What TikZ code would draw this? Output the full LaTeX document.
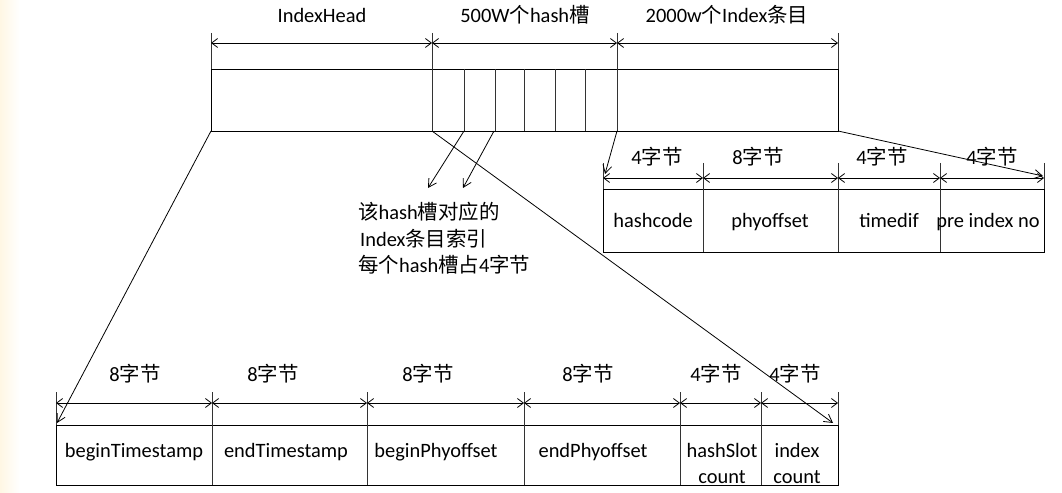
\documentclass[tikz,border=0pt]{standalone}
\usepackage{fontspec}
\setmainfont{Carlito}
\newfontfamily\cjk{Noto Sans CJK SC}
\usetikzlibrary{arrows.meta}
\newcommand{\zh}[1]{{\cjk #1}}
\tikzset{
  frame/.style={draw=black, line width=0.9bp},
  sep/.style={draw=black!80, line width=0.9bp},
  dimline/.style={line width=0.8bp, {Straight Barb[length=6bp,width=9bp]}-{Straight Barb[length=6bp,width=9bp]}},
  ptr/.style={line width=0.8bp, -{Straight Barb[length=8bp,width=9bp]}},
  lab/.style={font=\fontsize{20.5}{23}\selectfont, inner sep=0pt, anchor=base},
  labl/.style={font=\fontsize{20.5}{23}\selectfont, inner sep=0pt, anchor=base west},
}
\begin{document}
\begin{tikzpicture}[x=1bp,y=-1bp]
\useasboundingbox (0,0) rectangle (1062,493);
\shade[left color={rgb,255:red,255;green,247;blue,228}, right color=white] (0,0) rectangle (20,493);

% ---------- top bar ----------
\draw[frame] (211,69) rectangle (838,131);
\foreach \x in {464,495,524,555,585} \draw[sep] (\x,69) -- (\x,131);
\draw[sep] (432,33) -- (432,131);
\draw[sep] (617,33) -- (617,131);
\draw[sep] (211,33) -- (211,69);
\draw[sep] (838,33) -- (838,69);
\coordinate (t0) at (211,43); \coordinate (t1) at (432,43);
\coordinate (t2) at (617,43); \coordinate (t3) at (838,43);
\draw[dimline] (t0) -- (t1);
\draw[dimline] (t1) -- (t2);
\draw[dimline] (t2) -- (t3);
\node[lab] (lh) at (322,23) {IndexHead};
\node[lab] (ls) at (525,23) {500W\zh{个}hash\zh{槽}};
\node[lab] (li) at (727,23) {2000w\zh{个}Index\zh{条目}};

% ---------- right table (index entry) ----------
\draw[frame] (603,189) rectangle (1044,252);
\foreach \x in {703,838,940} \draw[sep] (\x,163) -- (\x,252);
\draw[sep] (603,163) -- (603,189);
\draw[sep] (1044,163) -- (1044,189);
\coordinate (r0) at (603,178); \coordinate (r1) at (703,178);
\coordinate (r2) at (838,178); \coordinate (r3) at (940,178);
\coordinate (r4) at (1044,178);
\draw[dimline] (r0) -- (r1);
\draw[dimline] (r1) -- (r2);
\draw[dimline] (r2) -- (r3);
\draw[dimline] (r3) -- (r4);
\node[lab] (rl1) at (657,165) {4\zh{字节}};
\node[lab] (rl2) at (758,165) {8\zh{字节}};
\node[lab] (rl3) at (882,165) {4\zh{字节}};
\node[lab] (rl4) at (992,165) {4\zh{字节}};
\node[lab] (rc1) at (653,228) {hashcode};
\node[lab] (rc2) at (770,228) {phyoffset};
\node[lab] (rc3) at (889,228) {timedif};
\node[lab] (rc4) at (988,228) {pre index no};

% ---------- bottom table (IndexHead) ----------
\draw[frame] (56,425) rectangle (838,485);
\foreach \x in {212,367,524,680,761} \draw[sep] (\x,392) -- (\x,485);
\draw[sep] (56,392) -- (56,425);
\draw[sep] (838,392) -- (838,425);
\coordinate (b0) at (56,403);  \coordinate (b1) at (212,403);
\coordinate (b2) at (367,403); \coordinate (b3) at (524,403);
\coordinate (b4) at (680,403); \coordinate (b5) at (761,403);
\coordinate (b6) at (838,403);
\draw[dimline] (b0) -- (b1);
\draw[dimline] (b1) -- (b2);
\draw[dimline] (b2) -- (b3);
\draw[dimline] (b3) -- (b4);
\draw[dimline] (b4) -- (b5);
\draw[dimline] (b5) -- (b6);
\node[lab] (bl1) at (135,382) {8\zh{字节}};
\node[lab] (bl2) at (273,382) {8\zh{字节}};
\node[lab] (bl3) at (428,382) {8\zh{字节}};
\node[lab] (bl4) at (588,382) {8\zh{字节}};
\node[lab] (bl5) at (716,382) {4\zh{字节}};
\node[lab] (bl6) at (795,382) {4\zh{字节}};
\node[lab] (bc1) at (134,457) {beginTimestamp};
\node[lab] (bc2) at (286,457) {endTimestamp};
\node[lab] (bc3) at (436,457) {beginPhyoffset};
\node[lab] (bc4) at (593,457) {endPhyoffset};
\node[lab] (bc5) at (722,457) {hashSlot};
\node[lab] (bc5b) at (722,483) {count};
\node[lab] (bc6) at (797,457) {index};
\node[lab] (bc6b) at (797,483) {count};

% ---------- caption ----------
\node[labl] (c1) at (358,220) {\zh{该}hash\zh{槽对应的}};
\node[labl] (c2) at (360,247) {Index\zh{条目索引}};
\node[labl] (c3) at (358,273) {\zh{每个}hash\zh{槽占}4\zh{字节}};

% ---------- pointers ----------
\coordinate (p1s) at (211,131); \coordinate (p1e) at (57,423);
\coordinate (p2s) at (432,131); \coordinate (p2e) at (833,423);
\coordinate (p3s) at (464,131); \coordinate (p3e) at (428,188);
\coordinate (p4s) at (494,131); \coordinate (p4e) at (463,188);
\coordinate (p5s) at (617,131); \coordinate (p5e) at (605,174);
\coordinate (p6s) at (838,131); \coordinate (p6e) at (1043,176);
\draw[ptr] (p1s) -- (p1e);
\draw[ptr] (p2s) -- (p2e);
\draw[ptr] (p3s) -- (p3e);
\draw[ptr] (p4s) -- (p4e);
\draw[ptr] (p5s) -- (p5e);
\draw[ptr] (p6s) -- (p6e);
\end{tikzpicture}
\end{document}
